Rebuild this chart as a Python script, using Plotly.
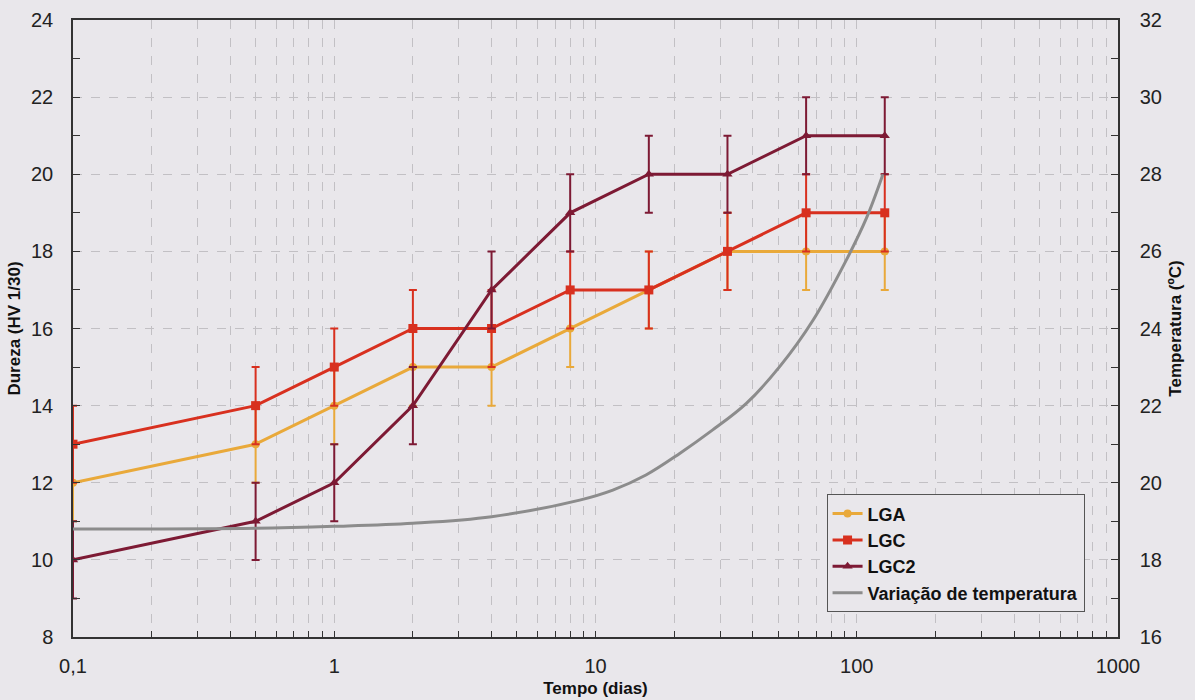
import plotly.graph_objects as go

# Data
tempo = [0.1, 0.5, 1, 2, 4, 8, 16, 32, 64, 128]
lga = [12, 13, 14, 15, 15, 16, 17, 18, 18, 18]
lgc = [13, 14, 15, 16, 16, 17, 17, 18, 19, 19]
lgc2 = [10, 11, 12, 14, 17, 19, 20, 20, 21, 21]
erro = [1, 1, 1, 1, 1, 1, 1, 1, 1, 1]

temp_t = [0.1, 0.5, 1, 2, 4, 8.7, 11.65, 15.6, 21.0, 28.1, 37.8, 50.7, 68.1, 91.3, 108.9, 126]
temp_v = [18.8, 18.82, 18.87, 18.95, 19.12, 19.55, 19.81, 20.2, 20.76, 21.37, 22.06, 23.01, 24.22, 25.78, 26.86, 28.0]

x_major = [0.1, 1, 10, 100, 1000]
x_major_text = ["0,1", "1", "10", "100", "1000"]

bg = "#e9e7eb"
axis_col = "#333333"
grid_col = "#c2c0c4"

tickvals = []
ticktext = []
for dec in [0.1, 1, 10, 100]:
    for m in range(1, 10):
        v = round(m * dec, 6)
        tickvals.append(v)
        ticktext.append(x_major_text[x_major.index(v)] if v in x_major else "")
tickvals.append(1000)
ticktext.append("1000")

fig = go.Figure()

def add_series(name, y, color, symbol, size):
    fig.add_trace(go.Scatter(
        x=tempo, y=y, name=name, mode="lines+markers",
        line=dict(color=color, width=3),
        marker=dict(symbol=symbol, size=size, color=color),
        error_y=dict(type="data", array=erro, visible=True, color=color, thickness=2, width=4),
    ))

add_series("LGA", lga, "#e9a93a", "circle", 8)
add_series("LGC", lgc, "#d8301f", "square", 9)
add_series("LGC2", lgc2, "#7d1a34", "triangle-up", 9)

fig.add_trace(go.Scatter(
    x=temp_t, y=temp_v, name="Variação de temperatura", mode="lines",
    line=dict(color="#8c8c8c", width=3, shape="spline", smoothing=1.0),
    yaxis="y2",
))

tick_font = dict(family="Liberation Sans, Arial, sans-serif", size=20, color="#222222")
title_font = dict(family="Liberation Sans, Arial, sans-serif", size=17, color="#111111")

fig.update_layout(
    width=1195, height=700,
    paper_bgcolor=bg, plot_bgcolor=bg,
    margin=dict(l=73, r=77, t=20, b=63),
    showlegend=True,
    legend=dict(
        x=0.968, y=0.04, xanchor="right", yanchor="bottom",
        bgcolor=bg, bordercolor="#555555", borderwidth=1,
        font=dict(family="Liberation Sans, Arial, sans-serif", size=18, color="#111111", weight="bold"),
        tracegroupgap=0, itemwidth=30,
    ),
    xaxis=dict(
        type="log", range=[-1, 3], automargin=False,
        tickmode="array", tickvals=tickvals, ticktext=ticktext,
        ticks="inside", ticklen=6, tickcolor=axis_col,
        showline=True, linecolor=axis_col, linewidth=1.5, mirror=True,
        showgrid=True, gridcolor=grid_col, griddash="dash", gridwidth=1,
        tickfont=tick_font, ticklabelstandoff=10,
        title=dict(text="<b>Tempo (dias)</b>", font=title_font, standoff=6),
        zeroline=False,
    ),
    yaxis=dict(
        range=[8, 24], dtick=2, tick0=8, automargin=False,
        ticks="inside", ticklen=7, tickcolor=axis_col,
        minor=dict(dtick=1, ticks="inside", ticklen=7, tickcolor=axis_col, showgrid=False),
        showline=True, linecolor=axis_col, linewidth=1.5, mirror=True,
        showgrid=True, gridcolor=grid_col, griddash="dash", gridwidth=1,
        tickfont=tick_font, ticklabelstandoff=14,
        title=dict(text="<b>Dureza (HV 1/30)</b>", font=title_font, standoff=6),
        zeroline=False,
    ),
    yaxis2=dict(
        range=[16, 32], dtick=2, tick0=16, automargin=False,
        overlaying="y", side="right",
        ticks="inside", ticklen=7, tickcolor=axis_col,
        minor=dict(dtick=1, ticks="inside", ticklen=7, tickcolor=axis_col, showgrid=False),
        showline=True, linecolor=axis_col, linewidth=1.5,
        showgrid=False,
        tickfont=tick_font, ticklabelstandoff=16,
        title=dict(text="<b>Temperatura (ºC)</b>", font=title_font, standoff=8),
        zeroline=False,
    ),
)

fig.write_html(
    "out.html",
    config={"displayModeBar": False},
    post_script="document.body.style.margin='0px';document.body.style.background='#e9e7eb';",
)
